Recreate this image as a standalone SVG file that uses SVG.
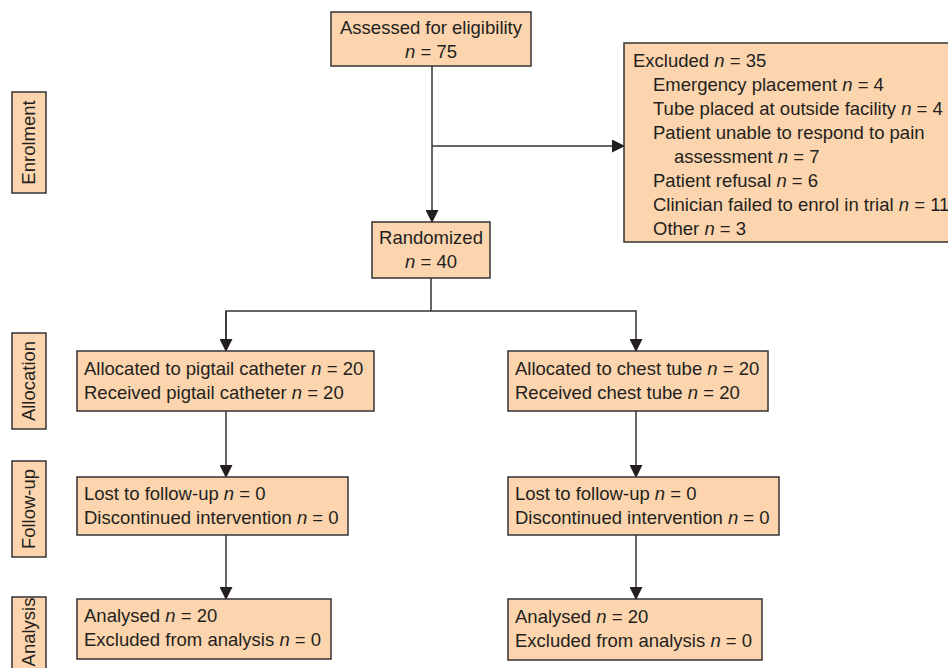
<svg xmlns="http://www.w3.org/2000/svg" width="948" height="668" viewBox="0 0 948 668">
<defs>
<marker id="ah" markerWidth="13" markerHeight="13" refX="12" refY="6.5" orient="auto" markerUnits="userSpaceOnUse">
<path d="M0,0 L13,6.5 L0,13 Z" fill="#231f20"/>
</marker>
<style>
.box{fill:#fcd5ae;stroke:#333;stroke-width:1.5}
.t{font-family:"Liberation Sans",Arial,sans-serif;font-size:18.5px;fill:#231f20}
.c{text-anchor:middle}
.i{font-style:italic}
.ln{fill:none;stroke:#333;stroke-width:1.5}
</style>
</defs>
<rect width="948" height="668" fill="#fff"/>
<g id="connectors">
<line class="ln" x1="432" y1="66" x2="432" y2="222" marker-end="url(#ah)"/>
<line class="ln" x1="432" y1="146" x2="624" y2="146" marker-end="url(#ah)"/>
<polyline class="ln" points="431,278 431,311"/>
<polyline class="ln" points="226,351 226,311 636,311 636,351" marker-end="url(#ah)"/>
<line class="ln" x1="226" y1="311" x2="226" y2="351" marker-end="url(#ah)"/>
<line class="ln" x1="226" y1="411" x2="226" y2="477" marker-end="url(#ah)"/>
<line class="ln" x1="636" y1="411" x2="636" y2="477" marker-end="url(#ah)"/>
<line class="ln" x1="226" y1="535" x2="226" y2="599" marker-end="url(#ah)"/>
<line class="ln" x1="636" y1="535" x2="636" y2="599" marker-end="url(#ah)"/>
</g>
<g id="stage-enrolment">
<rect class="box" x="12" y="92" width="34" height="101"/>
<text class="t c" transform="translate(35,142.5) rotate(-90)">Enrolment</text>
</g>
<g id="stage-allocation">
<rect class="box" x="12" y="333" width="34" height="96"/>
<text class="t c" transform="translate(35,381) rotate(-90)">Allocation</text>
</g>
<g id="stage-followup">
<rect class="box" x="12" y="461" width="34" height="96"/>
<text class="t c" transform="translate(35,509) rotate(-90)">Follow-up</text>
</g>
<g id="stage-analysis">
<rect class="box" x="12" y="597" width="34" height="80"/>
<text class="t c" transform="translate(35,632) rotate(-90)">Analysis</text>
</g>
<g id="assessed">
<rect class="box" x="331" y="12" width="200" height="54"/>
<text class="t c" x="431" y="34">Assessed for eligibility</text>
<text class="t c" x="431" y="58"><tspan class="i">n</tspan> = 75</text>
</g>
<g id="excluded">
<rect class="box" x="624" y="43" width="340" height="199"/>
<text class="t" x="633" y="67">Excluded <tspan class="i">n</tspan> = 35</text>
<text class="t" x="653" y="91">Emergency placement <tspan class="i">n</tspan> = 4</text>
<text class="t" x="653" y="115">Tube placed at outside facility <tspan class="i">n</tspan> = 4</text>
<text class="t" x="653" y="139">Patient unable to respond to pain</text>
<text class="t" x="674" y="163">assessment <tspan class="i">n</tspan> = 7</text>
<text class="t" x="653" y="187">Patient refusal <tspan class="i">n</tspan> = 6</text>
<text class="t" x="653" y="211">Clinician failed to enrol in trial <tspan class="i">n</tspan> = 11</text>
<text class="t" x="653" y="235">Other <tspan class="i">n</tspan> = 3</text>
</g>
<g id="randomized">
<rect class="box" x="372" y="222" width="118" height="56"/>
<text class="t c" x="431" y="244">Randomized</text>
<text class="t c" x="431" y="268"><tspan class="i">n</tspan> = 40</text>
</g>
<g id="alloc-pigtail">
<rect class="box" x="77" y="351" width="297" height="60"/>
<text class="t" x="84" y="375">Allocated to pigtail catheter <tspan class="i">n</tspan> = 20</text>
<text class="t" x="84" y="399">Received pigtail catheter <tspan class="i">n</tspan> = 20</text>
</g>
<g id="alloc-chest">
<rect class="box" x="508" y="351" width="260" height="60"/>
<text class="t" x="515" y="375">Allocated to chest tube <tspan class="i">n</tspan> = 20</text>
<text class="t" x="515" y="399">Received chest tube <tspan class="i">n</tspan> = 20</text>
</g>
<g id="followup-pigtail">
<rect class="box" x="77" y="477" width="271" height="58"/>
<text class="t" x="84" y="500">Lost to follow-up <tspan class="i">n</tspan> = 0</text>
<text class="t" x="84" y="524">Discontinued intervention <tspan class="i">n</tspan> = 0</text>
</g>
<g id="followup-chest">
<rect class="box" x="508" y="477" width="271" height="58"/>
<text class="t" x="515" y="500">Lost to follow-up <tspan class="i">n</tspan> = 0</text>
<text class="t" x="515" y="524">Discontinued intervention <tspan class="i">n</tspan> = 0</text>
</g>
<g id="analysis-pigtail">
<rect class="box" x="77" y="599" width="254" height="60"/>
<text class="t" x="84" y="622">Analysed <tspan class="i">n</tspan> = 20</text>
<text class="t" x="84" y="646">Excluded from analysis <tspan class="i">n</tspan> = 0</text>
</g>
<g id="analysis-chest">
<rect class="box" x="508" y="599" width="254" height="61"/>
<text class="t" x="515" y="623">Analysed <tspan class="i">n</tspan> = 20</text>
<text class="t" x="515" y="647">Excluded from analysis <tspan class="i">n</tspan> = 0</text>
</g>
</svg>
